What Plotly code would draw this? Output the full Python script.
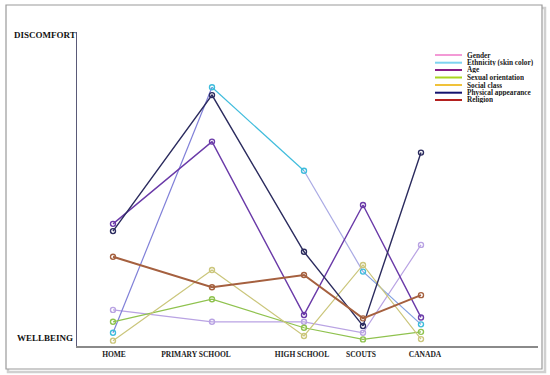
import plotly.graph_objects as go

W, H = 550, 375

# ---------------- data ----------------
stages = ["HOME", "PRIMARY SCHOOL", "HIGH SCHOOL", "SCOUTS", "CANADA"]
stage_x = [36, 135, 227, 286, 344]          # position of each stage on the x scale
label_x = [37, 119, 225, 284, 348]          # where each stage label sits on the x scale

series_names = ["Gender", "Ethnicity (skin color)", "Age", "Sexual orientation",
                "Social class", "Physical appearance", "Religion"]

gender = [11.5, 7.7, 7.7, 4.2, 32.2]
ethnicity = [4.2, 82.4, 55.8, 23.7, 6.9]
age = [38.9, 65.1, 9.9, 44.9, 9.1]
sexual_orientation = [7.7, 14.9, 5.8, 2.1, 4.5]
social_class = [1.7, 24.2, 3.2, 25.8, 2.2]
physical_appearance = [36.6, 79.9, 30.0, 6.4, 61.6]
religion = [28.4, 18.7, 22.6, 8.8, 16.2]

series_values = [gender, ethnicity, age, sexual_orientation,
                 social_class, physical_appearance, religion]

# ---------------- styles ----------------
line_colors = ["#b9a3e3", "#3fbcdc", "#6a3aa8", "#8fc24e", "#cbc67c", "#2b2b5e", "#a5603f"]
seg_colors = {1: ["#8080d8", "#3fbcdc", "#a9a9e4", "#7f9fe0"]}
line_widths = [1.2, 1.2, 1.4, 1.2, 1.2, 1.4, 2.0]
legend_colors = ["#f39ad6", "#7dd3f0", "#861a86", "#a9d41f", "#f0c23a", "#12126e", "#b3201f"]

def px(x):
    return x / W

def py(y):
    return 1 - y / H

fig = go.Figure()

for i, (name, vals) in enumerate(zip(series_names, series_values)):
    if i in seg_colors:
        for s in range(len(vals) - 1):
            fig.add_trace(go.Scatter(
                x=stage_x[s:s + 2], y=vals[s:s + 2], mode="lines",
                line=dict(color=seg_colors[i][s], width=line_widths[i]),
                showlegend=False, hoverinfo="skip"))
        fig.add_trace(go.Scatter(
            x=stage_x, y=vals, mode="markers", name=name,
            marker=dict(symbol="circle-open", size=5, color=line_colors[i],
                        line=dict(width=1.4)),
            showlegend=False))
    else:
        fig.add_trace(go.Scatter(
            x=stage_x, y=vals, mode="lines+markers", name=name,
            line=dict(color=line_colors[i], width=line_widths[i]),
            marker=dict(symbol="circle-open", size=5, color=line_colors[i],
                        line=dict(width=1.4)),
            showlegend=False))

shapes = []
annotations = []

# frame with shadow
shapes.append(dict(type="rect", xref="paper", yref="paper",
                   x0=px(8), x1=px(545), y0=py(372), y1=py(8),
                   line=dict(color="#d0d0d0", width=2.5), fillcolor="rgba(0,0,0,0)", layer="below"))
shapes.append(dict(type="rect", xref="paper", yref="paper",
                   x0=px(6), x1=px(542), y0=py(369), y1=py(5),
                   line=dict(color="#9a9a9a", width=1.2), fillcolor="white", layer="below"))

# manual legend
row_y = [55, 62.7, 70, 77.5, 85, 92.7, 100]
for i, name in enumerate(series_names):
    shapes.append(dict(type="line", xref="paper", yref="paper",
                       x0=px(435), x1=px(462), y0=py(row_y[i]), y1=py(row_y[i]),
                       line=dict(color=legend_colors[i], width=2)))
    annotations.append(dict(x=px(466), y=py(row_y[i]), xref="paper", yref="paper",
                            text="<b>" + name + "</b>", showarrow=False,
                            xanchor="left", yanchor="middle", height=7, borderpad=0,
                            font=dict(family="Liberation Serif", size=7.3, color="#1a1a1a")))

# axis end labels
annotations.append(dict(x=px(12), y=py(35), xref="paper", yref="paper", text="<b>DISCOMFORT</b>",
                        showarrow=False, xanchor="left", yanchor="middle",
                        font=dict(family="Liberation Serif", size=9, color="#111")))
annotations.append(dict(x=px(15), y=py(338), xref="paper", yref="paper", text="<b>WELLBEING</b>",
                        showarrow=False, xanchor="left", yanchor="middle",
                        font=dict(family="Liberation Serif", size=9, color="#111")))

fig.update_layout(
    width=W, height=H,
    margin=dict(l=0, r=0, t=0, b=0),
    paper_bgcolor="white", plot_bgcolor="rgba(0,0,0,0)",
    showlegend=False,
    shapes=shapes, annotations=annotations,
    xaxis=dict(domain=[px(77), px(538)], range=[0, 461],
               tickmode="array", tickvals=label_x,
               ticktext=["<b>" + s + "</b>" for s in stages],
               tickfont=dict(family="Liberation Serif", size=7.5, color="#222"),
               ticks="", ticklen=0, showgrid=False, zeroline=False,
               showline=True, linecolor="#8a8a8a", linewidth=1.5,
               fixedrange=True),
    yaxis=dict(domain=[py(346), py(32)], range=[0, 100],
               showticklabels=False, ticks="", showgrid=False, zeroline=False,
               showline=True, linecolor="#5a5a78", linewidth=1.2,
               fixedrange=True),
)

fig.write_html("out.html", config={"displayModeBar": False},
               post_script="document.body.style.margin='0';document.body.style.padding='0';")
